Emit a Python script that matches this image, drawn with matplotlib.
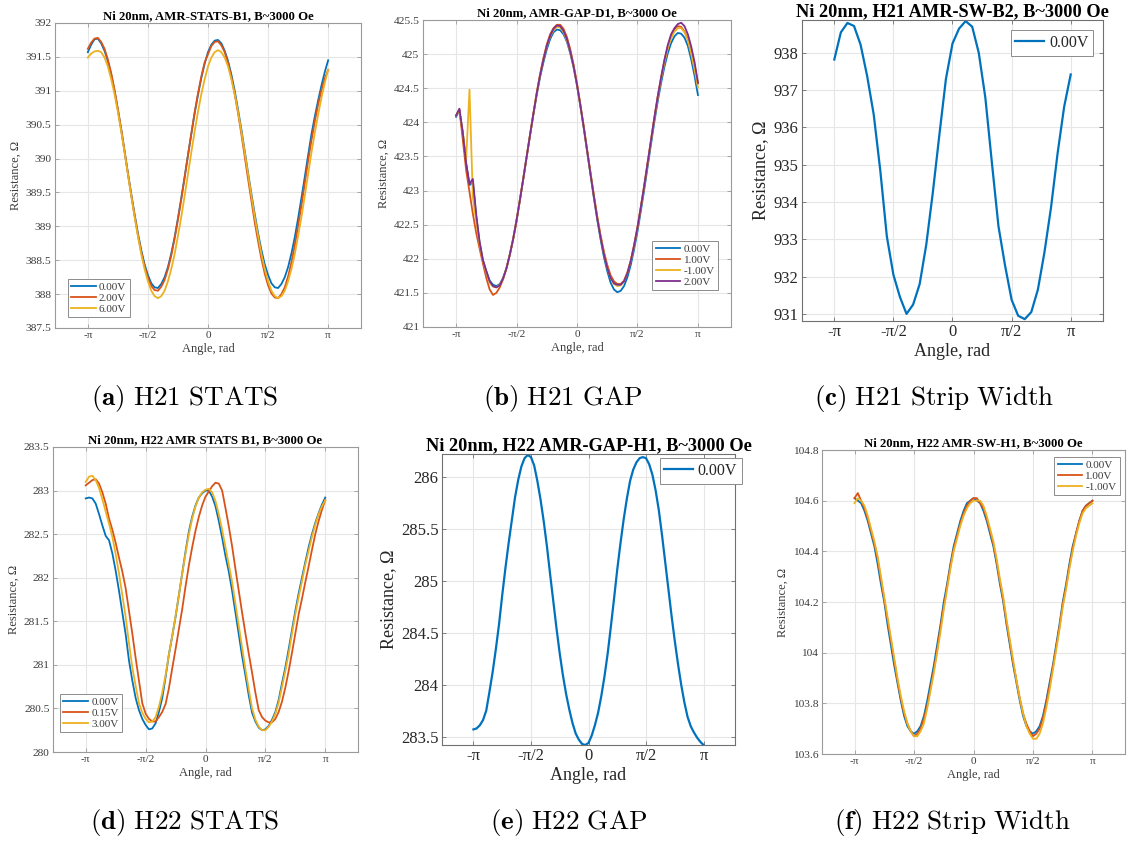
import numpy as np
import matplotlib
matplotlib.use("Agg")
import matplotlib.pyplot as plt
from matplotlib.ticker import FormatStrFormatter

plt.rcParams["font.family"] = ["Liberation Serif", "DejaVu Serif"]
plt.rcParams["mathtext.fontset"] = "cm"

FIG_W, FIG_H = 1130, 843

BLUE = "#0072BD"
RED = "#D95319"
YELLOW = "#EDB120"
PURPLE = "#7E2F8E"

# angle grids of the sweeps, degrees
ANGLES_10_DEG = [-180, -170, -160, -150, -140, -130, -120, -110, -100, -90,
                 -80, -70, -60, -50, -40, -30, -20, -10, 0, 10, 20, 30, 40,
                 50, 60, 70, 80, 90, 100, 110, 120, 130, 140, 150, 160, 170, 180]

ANGLES_5_DEG = [-180, -175, -170, -165, -160, -155, -150, -145, -140, -135,
                -130, -125, -120, -115, -110, -105, -100, -95, -90, -85,
                -80, -75, -70, -65, -60, -55, -50, -45, -40, -35, -30, -25,
                -20, -15, -10, -5, 0, 5, 10, 15, 20, 25, 30, 35, 40, 45, 50,
                55, 60, 65, 70, 75, 80, 85, 90, 95, 100, 105, 110, 115, 120,
                125, 130, 135, 140, 145, 150, 155, 160, 165, 170, 175, 180]

# (a) H21 STATS, 5 deg steps
STATS_H21_LABELS = ["0.00V", "2.00V", "6.00V"]
STATS_H21_0V = [391.57, 391.68, 391.76, 391.77, 391.70, 391.59, 391.44, 391.24, 391.00, 390.72,
                390.43, 390.11, 389.79, 389.48, 389.18, 388.90, 388.65, 388.44, 388.28, 388.16,
                388.10, 388.09, 388.15, 388.25, 388.40, 388.60, 388.84, 389.12, 389.42, 389.73,
                390.05, 390.36, 390.67, 390.94, 391.19, 391.40,
                391.57, 391.68, 391.74, 391.75, 391.70, 391.59, 391.44, 391.24, 391.00, 390.72,
                390.43, 390.11, 389.79, 389.48, 389.18, 388.90, 388.65, 388.44, 388.28, 388.16,
                388.10, 388.09, 388.15, 388.25, 388.40, 388.60, 388.84, 389.12, 389.42, 389.73,
                390.05, 390.36, 390.62, 390.86, 391.08, 391.28, 391.45]
STATS_H21_2V = [391.62, 391.71, 391.77, 391.78, 391.72, 391.62, 391.46, 391.26, 391.01, 390.73,
                390.43, 390.11, 389.78, 389.46, 389.16, 388.87, 388.62, 388.41, 388.24, 388.12,
                388.06, 388.05, 388.11, 388.21, 388.37, 388.57, 388.82, 389.10, 389.40, 389.72,
                390.05, 390.37, 390.68, 390.96, 391.21, 391.42,
                391.54, 391.66, 391.72, 391.73, 391.67, 391.57, 391.41, 391.20, 390.95, 390.67,
                390.36, 390.03, 389.70, 389.38, 389.06, 388.78, 388.52, 388.30, 388.13, 388.01,
                387.95, 387.94, 388.00, 388.10, 388.26, 388.47, 388.72, 389.01, 389.31, 389.64,
                389.97, 390.27, 390.55, 390.80, 391.01, 391.18, 391.31]
STATS_H21_6V = [391.49, 391.55, 391.58, 391.59, 391.57, 391.49, 391.36, 391.17, 390.95, 390.69,
                390.40, 390.09, 389.77, 389.45, 389.14, 388.86, 388.59, 388.37, 388.19, 388.05,
                387.97, 387.94, 387.97, 388.05, 388.19, 388.37, 388.59, 388.86, 389.14, 389.45,
                389.77, 390.09, 390.40, 390.69, 390.95, 391.17,
                391.36, 391.49, 391.57, 391.60, 391.57, 391.49, 391.36, 391.17, 390.95, 390.69,
                390.40, 390.09, 389.77, 389.45, 389.14, 388.86, 388.59, 388.37, 388.19, 388.05,
                387.97, 387.94, 387.97, 388.05, 388.19, 388.37, 388.59, 388.86, 389.14, 389.45,
                389.77, 390.09, 390.38, 390.65, 390.90, 391.12, 391.31]

# (b) H21 GAP, 5 deg steps (glitch near -160 deg on the -1.00V run)
GAP_H21_LABELS = ["0.00V", "1.00V", "-1.00V", "2.00V"]
GAP_H21_0V = [424.08, 424.17, 423.85, 423.40, 423.08, 423.12, 422.62, 422.24, 421.98, 421.82,
              421.68, 421.62,
              421.60, 421.63, 421.72, 421.86, 422.06, 422.29, 422.56, 422.86, 423.17, 423.49,
              423.80, 424.11, 424.40, 424.66, 424.88, 425.07, 425.22, 425.32, 425.36, 425.35,
              425.29, 425.18, 425.01, 424.80,
              424.54, 424.24, 423.92, 423.58, 423.24, 422.90, 422.58, 422.29, 422.03, 421.82,
              421.65, 421.55, 421.51, 421.53, 421.60, 421.73, 421.91, 422.14, 422.40, 422.70,
              423.01, 423.34, 423.67, 424.00, 424.30, 424.57, 424.81, 425.01, 425.16, 425.26,
              425.31, 425.30, 425.24, 425.12, 424.92, 424.68, 424.40]
GAP_H21_1V = [424.10, 424.19, 423.75, 423.30, 422.98, 422.66, 422.38, 422.15, 421.93, 421.72,
              421.55, 421.47,
              421.50, 421.58, 421.70, 421.86, 422.06, 422.29, 422.56, 422.86, 423.17, 423.49,
              423.81, 424.12, 424.43, 424.70, 424.94, 425.14, 425.29, 425.38, 425.43, 425.43,
              425.37, 425.25, 425.07, 424.84,
              424.57, 424.26, 423.94, 423.60, 423.27, 422.94, 422.63, 422.35, 422.11, 421.91,
              421.76, 421.67, 421.63, 421.63, 421.68, 421.80, 421.97, 422.20, 422.46, 422.76,
              423.07, 423.40, 423.73, 424.06, 424.37, 424.65, 424.90, 425.10, 425.26, 425.36,
              425.41, 425.40, 425.33, 425.22, 425.05, 424.83, 424.57]
GAP_H21_M1V = [424.10, 424.17, 423.85, 423.45, 424.48, 422.90, 422.55, 422.22, 421.97, 421.80,
               421.65, 421.59,
               421.58, 421.62, 421.71, 421.86, 422.06, 422.29, 422.56, 422.86, 423.17, 423.49,
               423.81, 424.12, 424.42, 424.69, 424.92, 425.11, 425.26, 425.35, 425.40, 425.39,
               425.32, 425.20, 425.03, 424.81,
               424.55, 424.25, 423.93, 423.59, 423.26, 422.92, 422.61, 422.33, 422.08, 421.87,
               421.72, 421.63, 421.60, 421.61, 421.67, 421.79, 421.97, 422.19, 422.45, 422.75,
               423.06, 423.39, 423.72, 424.05, 424.35, 424.63, 424.87, 425.08, 425.23, 425.33,
               425.38, 425.38, 425.32, 425.20, 425.00, 424.77, 424.51]
GAP_H21_2V = [424.10, 424.20, 423.85, 423.40, 423.10, 423.17, 422.65, 422.25, 421.98, 421.82,
              421.67, 421.60,
              421.58, 421.61, 421.71, 421.86, 422.06, 422.29, 422.56, 422.86, 423.17, 423.49,
              423.81, 424.12, 424.42, 424.69, 424.92, 425.12, 425.27, 425.37, 425.42, 425.41,
              425.34, 425.22, 425.04, 424.82,
              424.55, 424.25, 423.93, 423.59, 423.25, 422.92, 422.60, 422.32, 422.07, 421.87,
              421.72, 421.64, 421.62, 421.62, 421.67, 421.79, 421.97, 422.20, 422.46, 422.76,
              423.07, 423.40, 423.73, 424.06, 424.37, 424.65, 424.91, 425.13, 425.29, 425.38,
              425.44, 425.46, 425.41, 425.29, 425.11, 424.88, 424.58]

# (c) H21 strip width, 10 deg steps
SW_H21_LABELS = ["0.00V"]
SW_H21_0V = [937.82, 938.55, 938.80, 938.72, 938.22, 937.38, 936.35, 934.85, 933.08, 932.05,
             931.45, 931.00, 931.25, 931.80, 932.85, 934.25, 935.80, 937.30, 938.25, 938.65,
             938.85, 938.70, 938.00, 936.80, 935.05, 933.35, 932.30, 931.38, 930.95, 930.86,
             931.05, 931.65, 932.65, 933.85, 935.30, 936.55, 937.42]

# (d) H22 STATS, 5 deg steps
STATS_H22_LABELS = ["0.00V", "0.15V", "3.00V"]
STATS_H22_0V = [282.91, 282.92, 282.91, 282.85, 282.73, 282.60, 282.48, 282.43, 282.28, 282.08,
                281.85, 281.60, 281.35, 281.05, 280.82, 280.62, 280.48, 280.38, 280.31, 280.26,
                280.27, 280.33, 280.46, 280.62, 280.86, 281.12, 281.33, 281.55, 281.80, 282.05,
                282.30, 282.53, 282.70, 282.83, 282.92, 282.97,
                283.00, 283.00, 282.93, 282.82, 282.65, 282.46, 282.25, 282.07, 281.85, 281.60,
                281.35, 281.10, 280.88, 280.65, 280.45, 280.35, 280.28, 280.25, 280.26, 280.30,
                280.37, 280.46, 280.60, 280.79, 280.97, 281.18, 281.40, 281.62, 281.82, 282.00,
                282.18, 282.35, 282.50, 282.63, 282.74, 282.84, 282.92]
STATS_H22_015V = [283.06, 283.09, 283.12, 283.13, 283.08, 282.98, 282.85, 282.68, 282.55, 282.40,
                  282.23, 282.07, 281.88, 281.62, 281.36, 281.08, 280.82, 280.56, 280.44, 280.38,
                  280.35, 280.35, 280.40, 280.46, 280.55, 280.73, 280.96, 281.18, 281.41, 281.64,
                  281.90, 282.14, 282.35, 282.54, 282.70, 282.83,
                  282.93, 282.99, 283.05, 283.09, 283.08, 283.00, 282.80, 282.59, 282.36, 282.10,
                  281.85, 281.60, 281.36, 281.13, 280.91, 280.68, 280.48, 280.40, 280.36, 280.34,
                  280.34, 280.38, 280.46, 280.58, 280.74, 280.93, 281.14, 281.36, 281.58, 281.76,
                  281.95, 282.13, 282.32, 282.50, 282.65, 282.78, 282.89]
STATS_H22_3V = [283.10, 283.16, 283.17, 283.12, 283.03, 282.90, 282.76, 282.62, 282.47, 282.27,
                282.05, 281.80, 281.55, 281.25, 280.97, 280.76, 280.56, 280.45, 280.38, 280.34,
                280.35, 280.40, 280.52, 280.68, 280.88, 281.12, 281.33, 281.56, 281.80, 282.05,
                282.28, 282.50, 282.68, 282.82, 282.92, 282.98,
                283.01, 283.02, 282.98, 282.88, 282.73, 282.55, 282.35, 282.15, 281.95, 281.70,
                281.45, 281.20, 280.95, 280.72, 280.50, 280.37, 280.29, 280.25, 280.25, 280.29,
                280.35, 280.44, 280.57, 280.75, 280.93, 281.13, 281.36, 281.58, 281.78, 281.96,
                282.15, 282.31, 282.47, 282.61, 282.73, 282.82, 282.89]

# (e) H22 GAP, 5 deg steps
GAP_H22_LABELS = ["0.00V"]
GAP_H22_0V = [283.57, 283.58, 283.61, 283.66, 283.75, 283.93, 284.12, 284.34, 284.58, 284.86,
              285.12, 285.36, 285.58, 285.80, 285.97, 286.10, 286.18, 286.21, 286.19, 286.11,
              285.96, 285.78, 285.57, 285.33, 285.06, 284.80, 284.54, 284.30, 284.09, 283.91,
              283.76, 283.63, 283.53, 283.47, 283.43, 283.42,
              283.44, 283.51, 283.61, 283.73, 283.89, 284.08, 284.30, 284.56, 284.83, 285.11,
              285.36, 285.59, 285.79, 285.96, 286.07, 286.14, 286.18, 286.19, 286.18, 286.12,
              286.02, 285.87, 285.68, 285.44, 285.18, 284.92, 284.66, 284.42, 284.20, 284.00,
              283.83, 283.69, 283.60, 283.54, 283.49, 283.45, 283.42]

# (f) H22 strip width, 5 deg steps
SW_H22_LABELS = ["0.00V", "1.00V", "-1.00V"]
SW_H22_0V = [104.61, 104.60, 104.59, 104.56, 104.52, 104.47, 104.42, 104.35, 104.27, 104.20,
             104.11, 104.03, 103.95, 103.88, 103.81, 103.75, 103.71, 103.69, 103.68,
             103.69, 103.71, 103.75, 103.81, 103.88, 103.95, 104.03, 104.11, 104.20,
             104.27, 104.35, 104.42, 104.47, 104.52, 104.56, 104.59, 104.60, 104.61,
             104.60, 104.59, 104.56, 104.52, 104.47, 104.42, 104.35, 104.27, 104.20,
             104.11, 104.03, 103.95, 103.88, 103.81, 103.75, 103.71, 103.69, 103.68,
             103.69, 103.71, 103.75, 103.81, 103.88, 103.95, 104.03, 104.11, 104.20,
             104.27, 104.35, 104.42, 104.47, 104.52, 104.56, 104.58, 104.59, 104.60]
SW_H22_1V = [104.61, 104.63, 104.60, 104.57, 104.53, 104.48, 104.43, 104.37, 104.29, 104.21,
             104.13, 104.05, 103.97, 103.89, 103.82, 103.76, 103.72, 103.69, 103.67,
             103.68, 103.70, 103.74, 103.79, 103.86, 103.93, 104.01, 104.10, 104.18,
             104.26, 104.34, 104.41, 104.46, 104.51, 104.55, 104.58, 104.60, 104.61,
             104.61, 104.59, 104.57, 104.53, 104.48, 104.43, 104.36, 104.28, 104.21,
             104.12, 104.04, 103.96, 103.89, 103.82, 103.76, 103.72, 103.69, 103.67,
             103.68, 103.70, 103.74, 103.80, 103.87, 103.94, 104.02, 104.10, 104.19,
             104.26, 104.34, 104.41, 104.47, 104.52, 104.56, 104.58, 104.59, 104.60]
SW_H22_M1V = [104.59, 104.61, 104.60, 104.58, 104.54, 104.49, 104.44, 104.38, 104.30, 104.22,
              104.14, 104.06, 103.98, 103.90, 103.83, 103.77, 103.72, 103.69, 103.67,
              103.67, 103.69, 103.72, 103.78, 103.85, 103.92, 104.00, 104.08, 104.17,
              104.25, 104.33, 104.40, 104.45, 104.50, 104.54, 104.57, 104.59, 104.60,
              104.60, 104.60, 104.58, 104.54, 104.49, 104.44, 104.37, 104.29, 104.22,
              104.13, 104.05, 103.97, 103.89, 103.82, 103.76, 103.71, 103.68, 103.66,
              103.66, 103.68, 103.72, 103.78, 103.85, 103.93, 104.01, 104.09, 104.18,
              104.25, 104.33, 104.40, 104.46, 104.51, 104.55, 104.57, 104.58, 104.59]

SMALL = dict(tick=8.2, label=9, title=9.2, legend=8, lw=1.3, handle=2.2,
             text="#3c3c3c", edge="#9a9a9a")
LARGE = dict(tick=12, label=13, title=13.2, legend=11.5, lw=1.6, handle=1.8,
             text="#262626", edge="#707070")


def add_axes_px(fig, left, top, right, bottom):
    return fig.add_axes([left / FIG_W, 1 - bottom / FIG_H,
                         (right - left) / FIG_W, (bottom - top) / FIG_H])


def style_axes(ax, title, ylim, yticks, st):
    ax.set_xlim(-4, 4)
    ax.set_xticks([-np.pi, -np.pi / 2, 0, np.pi / 2, np.pi])
    ax.set_xticklabels(["-π", "-π/2", "0", "π/2", "π"])
    ax.set_ylim(*ylim)
    ax.set_yticks(yticks)
    ax.yaxis.set_major_formatter(FormatStrFormatter("%g"))
    ax.grid(True, color="#e6e6e6", linewidth=0.8)
    ax.set_axisbelow(True)
    ax.tick_params(direction="in", top=True, right=True, length=3, width=0.6,
                   pad=2.5, labelsize=st["tick"], color=st["edge"],
                   labelcolor=st["text"])
    for spine in ax.spines.values():
        spine.set_color(st["edge"])
        spine.set_linewidth(0.8)
    ax.set_xlabel("Angle, rad", fontsize=st["label"], color=st["text"], labelpad=2)
    ax.set_ylabel("Resistance, Ω", fontsize=st["label"], color=st["text"], labelpad=3)
    ax.set_title(title, fontsize=st["title"], fontweight="bold", pad=3)


def plot_sweeps(ax, angles_deg, series, labels, colors, st, legend_loc, anchor):
    x = np.deg2rad(angles_deg)
    for values, label, color in zip(series, labels, colors):
        ax.plot(x, values, color=color, linewidth=st["lw"], label=label)
    leg = ax.legend(loc=legend_loc, bbox_to_anchor=anchor, borderaxespad=0,
                    fontsize=st["legend"], fancybox=False, framealpha=1,
                    handlelength=st["handle"], handletextpad=0.3, borderpad=0.3,
                    labelspacing=0.1)
    leg.get_frame().set_edgecolor("#8c8c8c")
    leg.get_frame().set_linewidth(0.7)
    for text in leg.get_texts():
        text.set_color(st["text"])


def add_caption(fig, x, y, tag, text):
    words = text.replace(" ", r"\ ")
    fig.text(x / FIG_W, 1 - y / FIG_H, rf"$\mathbf{{({tag})}}\ \mathrm{{{words}}}$",
             ha="center", va="center", fontsize=19.5)


def main():
    fig = plt.figure(figsize=(FIG_W / 100, FIG_H / 100), dpi=100)

    ax = add_axes_px(fig, 55, 23, 361, 328)
    plot_sweeps(ax, ANGLES_5_DEG, [STATS_H21_0V, STATS_H21_2V, STATS_H21_6V],
                STATS_H21_LABELS, [BLUE, RED, YELLOW], SMALL, "lower left", (0.042, 0.036))
    style_axes(ax, "Ni 20nm, AMR-STATS-B1, B~3000 Oe", (387.5, 392),
               np.arange(387.5, 392.01, 0.5), SMALL)

    ax = add_axes_px(fig, 423, 20, 731, 327)
    plot_sweeps(ax, ANGLES_5_DEG, [GAP_H21_0V, GAP_H21_1V, GAP_H21_M1V, GAP_H21_2V],
                GAP_H21_LABELS, [BLUE, RED, YELLOW, PURPLE], SMALL, "lower right", (0.958, 0.12))
    style_axes(ax, "Ni 20nm, AMR-GAP-D1, B~3000 Oe", (421, 425.5),
               np.arange(421, 425.51, 0.5), SMALL)

    ax = add_axes_px(fig, 802, 20, 1103, 321)
    plot_sweeps(ax, ANGLES_10_DEG, [SW_H21_0V], SW_H21_LABELS, [BLUE], LARGE,
                "upper right", (0.967, 0.967))
    style_axes(ax, "Ni 20nm, H21 AMR-SW-B2, B~3000 Oe", (930.81, 938.88),
               np.arange(931, 938.01, 1), LARGE)

    ax = add_axes_px(fig, 53, 447, 358, 752)
    plot_sweeps(ax, ANGLES_5_DEG, [STATS_H22_0V, STATS_H22_015V, STATS_H22_3V],
                STATS_H22_LABELS, [BLUE, RED, YELLOW], SMALL, "lower left", (0.023, 0.066))
    style_axes(ax, "Ni 20nm, H22 AMR STATS B1, B~3000 Oe", (280, 283.5),
               np.arange(280, 283.51, 0.5), SMALL)

    ax = add_axes_px(fig, 442, 454, 735, 745)
    plot_sweeps(ax, ANGLES_5_DEG, [GAP_H22_0V], GAP_H22_LABELS, [BLUE], LARGE,
                "upper right", (1.024, 0.986))
    style_axes(ax, "Ni 20nm, H22 AMR-GAP-H1, B~3000 Oe", (283.42, 286.22),
               np.arange(283.5, 286.01, 0.5), LARGE)

    ax = add_axes_px(fig, 822, 450, 1125, 754)
    plot_sweeps(ax, ANGLES_5_DEG, [SW_H22_0V, SW_H22_1V, SW_H22_M1V],
                SW_H22_LABELS, [BLUE, RED, YELLOW], SMALL, "upper right", (0.983, 0.977))
    style_axes(ax, "Ni 20nm, H22 AMR-SW-H1, B~3000 Oe", (103.6, 104.8),
               np.arange(103.6, 104.81, 0.2), SMALL)

    add_caption(fig, 185, 398, "a", "H21 STATS")
    add_caption(fig, 563, 398, "b", "H21 GAP")
    add_caption(fig, 934, 398, "c", "H21 Strip Width")
    add_caption(fig, 185, 822, "d", "H22 STATS")
    add_caption(fig, 569, 822, "e", "H22 GAP")
    add_caption(fig, 952, 822, "f", "H22 Strip Width")

    fig.savefig("out.png", dpi=100)
    plt.close(fig)


if __name__ == "__main__":
    main()
